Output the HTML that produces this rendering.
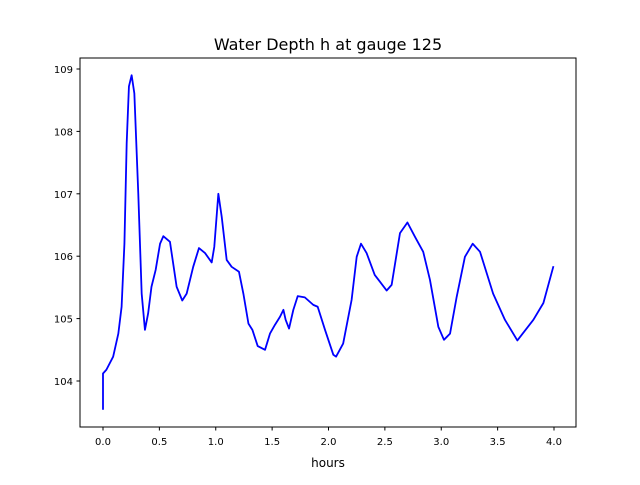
<!DOCTYPE html>
<html><head><meta charset="utf-8"><style>
body{margin:0;background:#fff}
svg text{font-family:"DejaVu Sans","Liberation Sans",sans-serif;fill:#000}
</style></head><body>
<svg id="chart" width="640" height="480" xmlns="http://www.w3.org/2000/svg">
<rect width="640" height="480" fill="#fff"/>
<text x="328" y="50" font-size="16" text-anchor="middle">Water Depth h at gauge 125</text>
<g id="plot"></g>
<rect x="80" y="58" width="496" height="369" fill="none" stroke="#000" stroke-width="1"/>
<text x="328" y="467" font-size="12" text-anchor="middle">hours</text>
</svg>
<script>
const xTicks=[0,0.5,1,1.5,2,2.5,3,3.5,4];
const xTickLabels=["0.0","0.5","1.0","1.5","2.0","2.5","3.0","3.5","4.0"];
const yTicks=[104,105,106,107,108,109];
const yTickLabels=["104","105","106","107","108","109"];
const hours=[0,0,0.03,0.09,0.136,0.165,0.19,0.21,0.23,0.254,0.278,0.313,0.343,0.372,0.40,0.43,0.467,0.506,0.535,0.594,0.653,0.703,0.742,0.80,0.851,0.905,0.964,0.987,1.023,1.053,1.097,1.141,1.206,1.245,1.29,1.325,1.372,1.437,1.481,1.525,1.57,1.60,1.62,1.65,1.688,1.727,1.79,1.865,1.904,1.969,2.043,2.067,2.13,2.205,2.25,2.288,2.338,2.41,2.516,2.56,2.634,2.70,2.767,2.84,2.90,2.974,3.024,3.078,3.137,3.21,3.279,3.344,3.46,3.565,3.675,3.817,3.906,3.995];
const depth=[103.54,104.12,104.18,104.39,104.76,105.19,106.2,107.81,108.72,108.9,108.61,107.0,105.4,104.82,105.08,105.51,105.78,106.2,106.32,106.23,105.51,105.29,105.4,105.83,106.13,106.05,105.9,106.15,107.0,106.63,105.94,105.83,105.75,105.4,104.92,104.82,104.56,104.5,104.76,104.9,105.03,105.14,104.98,104.84,105.14,105.36,105.34,105.22,105.19,104.82,104.42,104.39,104.6,105.3,105.99,106.2,106.05,105.7,105.45,105.54,106.37,106.54,106.31,106.07,105.62,104.87,104.66,104.76,105.35,105.99,106.2,106.07,105.4,104.98,104.65,104.98,105.25,105.84];
const X=v=>103+v*112.75, Y=v=>381-(v-104)*62.4;
const ns="http://www.w3.org/2000/svg", g=document.getElementById('plot');
function mk(t,a){const e=document.createElementNS(ns,t);for(const k in a)e.setAttribute(k,a[k]);g.appendChild(e);return e;}
xTicks.forEach((v,i)=>{
 const l=mk('line',{x1:X(v),x2:X(v),y1:427,y2:430.5,stroke:'#000'});
 
 
 const t=mk('text',{x:X(v),y:445,'font-size':10,'text-anchor':'middle'});t.textContent=xTickLabels[i];
 
 
});
yTicks.forEach((v,i)=>{
 const l=mk('line',{x1:76.5,x2:80,y1:Y(v),y2:Y(v),stroke:'#000'});
 
 
 const t=mk('text',{x:73,y:Y(v)+4,'font-size':10,'text-anchor':'end'});t.textContent=yTickLabels[i];
 
 
});
const p=mk('polyline',{points:hours.map((h,i)=>X(h)+','+Y(depth[i])).join(' '),fill:'none',stroke:'#0000ff','stroke-width':1.8,'stroke-linejoin':'round'});


</script>
</body></html>
